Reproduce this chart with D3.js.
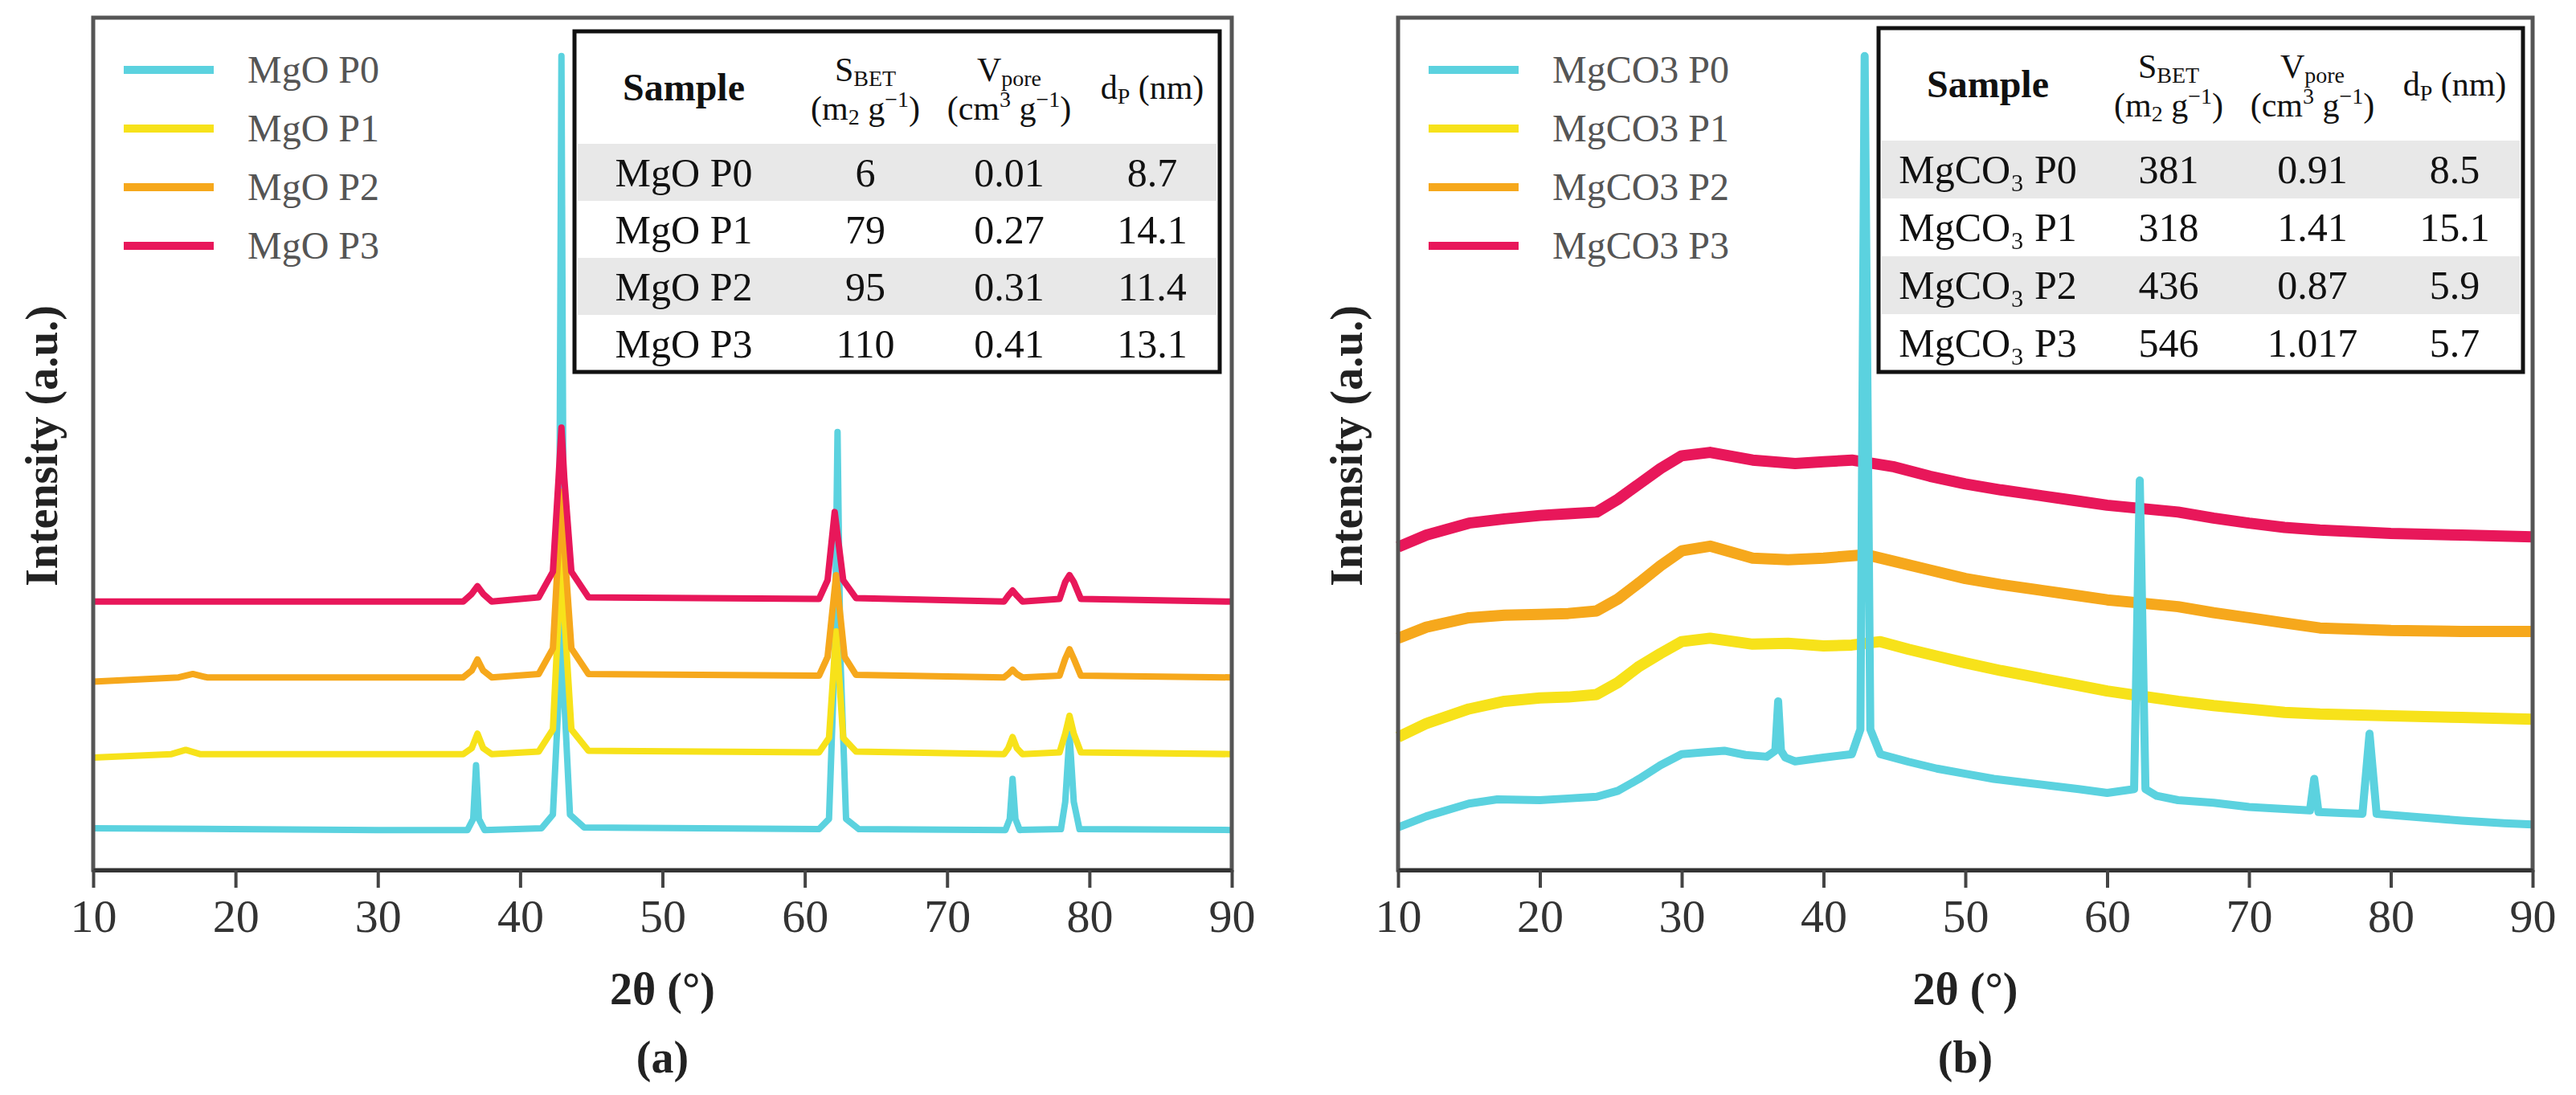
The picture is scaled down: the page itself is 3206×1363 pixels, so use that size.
<!DOCTYPE html>
<html><head><meta charset="utf-8">
<script src="https://cdn.jsdelivr.net/npm/d3@7"></script>
<style>body{margin:0;background:#fff}svg text{font-family:"Liberation Serif","DejaVu Serif",serif !important}</style>
</head><body>
<script>
const W = 3206, H = 1363;

const colors = ["#5bd2df", "#f7e21a", "#f6a81c", "#e8175a"];
const xTicks = [10, 20, 30, 40, 50, 60, 70, 80, 90];

// panel (a): MgO
const mgoNames = ["MgO P0", "MgO P1", "MgO P2", "MgO P3"];
const mgoP0 = [[10,4.9],[30,4.7],[36.3,4.7],[36.7,6],[36.9,12.3],[37.1,6],[37.5,4.7],[41.5,4.9],[42.3,6.5],[42.7,20],[42.9,95.5],[43.1,20],[43.5,6.5],[44.5,5],[61,4.8],[61.7,6],[62.1,25],[62.3,51.4],[62.5,25],[62.9,6],[63.8,4.8],[74.1,4.7],[74.4,6],[74.6,10.7],[74.8,6],[75.1,4.7],[78.0,4.8],[78.3,8],[78.6,16.0],[78.9,8],[79.3,4.8],[90,4.7]];
const mgoP1 = [[10,13.2],[15.5,13.6],[16.5,14.1],[17.5,13.6],[36,13.6],[36.6,14.3],[37,16.0],[37.4,14.3],[38,13.6],[41.3,13.9],[42.3,16.5],[42.7,30],[42.9,42.8],[43.1,30],[43.6,16.5],[44.8,14],[61,13.8],[61.7,15.5],[62.2,28],[62.7,15.5],[63.6,13.9],[74,13.6],[74.3,14.3],[74.6,15.6],[74.9,14.3],[75.3,13.6],[77.9,13.8],[78.3,16],[78.6,18.1],[78.9,16],[79.4,13.8],[90,13.6]];
const mgoP2 = [[10,22.1],[16,22.6],[17,23.0],[18,22.6],[36,22.6],[36.6,23.4],[37,24.7],[37.4,23.4],[38,22.6],[41.3,23],[42.3,26],[42.7,38],[42.9,44.4],[43.1,38],[43.6,26],[44.8,23],[61,22.8],[61.6,25],[62.2,34.6],[62.8,25],[63.6,22.9],[74,22.6],[74.3,23],[74.6,23.5],[74.9,23],[75.3,22.6],[77.9,22.8],[78.3,24.8],[78.6,25.9],[78.9,24.8],[79.4,22.8],[90,22.6]];
const mgoP3 = [[10,31.5],[36,31.5],[36.6,32.4],[37,33.3],[37.4,32.4],[38,31.5],[41.3,32],[42.3,35],[42.7,46],[42.9,51.9],[43.1,46],[43.6,35],[44.8,32],[61,31.8],[61.6,34],[62.1,42.0],[62.7,34],[63.6,31.9],[74,31.5],[74.3,32.2],[74.6,32.8],[74.9,32.2],[75.3,31.5],[77.9,31.8],[78.3,33.8],[78.6,34.6],[78.9,33.8],[79.4,31.8],[90,31.5]];

const mgoSbet = ["6", "79", "95", "110"];
const mgoVpore = ["0.01", "0.27", "0.31", "0.41"];
const mgoDp = ["8.7", "14.1", "11.4", "13.1"];

// panel (b): MgCO3
const carbNames = ["MgCO3 P0", "MgCO3 P1", "MgCO3 P2", "MgCO3 P3"];
const carbRows = ["MgCO₃ P0", "MgCO₃ P1", "MgCO₃ P2", "MgCO₃ P3"];
const carbP0 = [[10,5.0],[12,6.3],[15,7.8],[17,8.3],[20,8.2],[22,8.4],[24,8.6],[25.5,9.3],[27,10.7],[28.5,12.3],[30,13.6],[31.5,13.8],[33,14.0],[34.5,13.5],[36,13.3],[36.6,14],[36.8,19.8],[37.0,14],[37.3,13.2],[38,12.75],[40,13.2],[42,13.6],[42.6,16.5],[42.9,95.5],[43.3,16.5],[44,13.6],[46,12.7],[48,11.9],[50,11.3],[52,10.7],[54,10.3],[56,9.9],[58,9.5],[60,9.05],[61.9,9.5],[62.3,45.7],[62.7,9.5],[63.5,8.7],[65,8.2],[67.5,7.9],[70,7.4],[72,7.2],[74.3,7.0],[74.6,10.7],[74.9,6.8],[76.5,6.7],[78,6.6],[78.5,16.0],[79,6.6],[82,6.2],[85,5.8],[88,5.5],[90,5.35]];
const carbP1 = [[10,15.6],[12,17.2],[15,18.9],[17.5,19.8],[20,20.2],[22,20.3],[24,20.6],[25.5,22.0],[27,23.9],[28.5,25.4],[30,26.8],[32,27.2],[35,26.5],[37.5,26.6],[40,26.3],[42,26.4],[44,26.8],[46,25.9],[48,25.1],[50,24.3],[52.5,23.4],[55,22.6],[57.5,21.8],[60,21.0],[62.5,20.4],[65,19.8],[67.5,19.3],[70,18.9],[72.5,18.5],[75,18.3],[80,18.1],[85,17.9],[90,17.7]];
const carbP2 = [[10,27.2],[12,28.5],[15,29.6],[17.5,29.9],[20,30.0],[22,30.1],[24,30.4],[25.5,31.8],[27,33.7],[28.5,35.7],[30,37.45],[32,38.0],[35,36.6],[37.5,36.4],[40,36.6],[43,37.0],[45,36.2],[47.5,35.2],[50,34.2],[52.5,33.5],[55,32.9],[57.5,32.3],[60,31.7],[62.5,31.3],[65,30.9],[67.5,30.2],[70,29.6],[72.5,29.0],[75,28.4],[80,28.1],[85,28.0],[90,28.0]];
const carbP3 = [[10,37.9],[12,39.3],[15,40.7],[17.5,41.2],[20,41.6],[22,41.8],[24,42.0],[25.5,43.5],[27,45.3],[28.5,47.1],[30,48.6],[32,49.0],[35,48.1],[38,47.7],[40,47.9],[42,48.1],[45,47.3],[47.5,46.2],[50,45.3],[52.5,44.6],[55,44.0],[57.5,43.4],[60,42.8],[62.5,42.4],[65,42.0],[67.5,41.3],[70,40.7],[72.5,40.2],[75,39.9],[80,39.5],[85,39.3],[90,39.1]];

const carbSbet = ["381", "318", "436", "546"];
const carbVpore = ["0.91", "1.41", "0.87", "1.017"];
const carbDp = ["8.5", "15.1", "5.9", "5.7"];

const svg = d3.select("body").append("svg").attr("width", W).attr("height", H)
  .attr("font-family", "Liberation Serif");

function panel(cfg) {
  const g = svg.append("g");
  const x = d3.scaleLinear().domain([10, 90]).range([cfg.left, cfg.right]);
  const y = d3.scaleLinear().domain([0, 100]).range([1083, 22]);
  const line = d3.line().x(d => x(d[0])).y(d => y(d[1]));

  cfg.order.forEach(i => {
    g.append("path").datum(cfg.series[i])
      .attr("d", line).attr("fill", "none")
      .attr("stroke", colors[i]).attr("stroke-width", i === 0 ? cfg.sw0 : cfg.sw)
      .attr("stroke-linejoin", "round");
  });

  // frame
  g.append("rect").attr("x", cfg.left).attr("y", 22)
    .attr("width", cfg.right - cfg.left).attr("height", 1083 - 22)
    .attr("fill", "none").attr("stroke", "#555").attr("stroke-width", 5);

  const ax = g.append("g").attr("transform", "translate(0,1083)")
    .call(d3.axisBottom(x).tickValues(xTicks).tickSize(22).tickSizeOuter(0).tickPadding(14));
  ax.attr("font-family", "Liberation Serif");
  ax.select(".domain").attr("stroke", "#333").attr("stroke-width", 5);
  ax.selectAll(".tick line").attr("stroke", "#444").attr("stroke-width", 4);
  ax.selectAll("text").attr("font-size", 58).attr("fill", "#333");

  const cx = (cfg.left + cfg.right) / 2;
  g.append("text").attr("x", cx).attr("y", 1250).attr("text-anchor", "middle")
    .attr("font-size", 56).attr("font-weight", "bold").attr("fill", "#222").text("2θ (°)");
  g.append("text").attr("x", cx).attr("y", 1335).attr("text-anchor", "middle")
    .attr("font-size", 56).attr("font-weight", "bold").attr("fill", "#222").text(cfg.tag);

  g.append("text").attr("transform", `translate(${cfg.left - 45},555) rotate(-90)`)
    .attr("text-anchor", "middle").attr("font-size", 56).attr("font-weight", "bold")
    .attr("fill", "#222").text("Intensity (a.u.)");

  // legend
  cfg.names.forEach((n, i) => {
    const ly = 87 + i * 73;
    g.append("line").attr("x1", cfg.left + 38).attr("x2", cfg.left + 150)
      .attr("y1", ly).attr("y2", ly).attr("stroke", colors[i]).attr("stroke-width", 10);
    g.append("text").attr("x", cfg.left + 192).attr("y", ly + 16)
      .attr("font-size", 48).attr("fill", "#555").text(n);
  });

  // table
  const t = cfg.table;
  const tg = g.append("g");
  const rowH = (463 - t.head) / 4;
  tg.append("rect").attr("x", t.x0).attr("y", t.y0).attr("width", t.x1 - t.x0)
    .attr("height", 463 - t.y0).attr("fill", "#fff");
  for (let r = 0; r < 4; r++) {
    if (r % 2 === 0) tg.append("rect").attr("x", t.x0 + 4).attr("y", t.head + r * rowH)
      .attr("width", t.x1 - t.x0 - 8).attr("height", rowH).attr("fill", "#e8e8e8");
    const vals = [t.rows[r], t.sbet[r], t.vpore[r], t.dp[r]];
    vals.forEach((v, c) => {
      tg.append("text").attr("x", t.cols[c]).attr("y", t.head + r * rowH + rowH / 2 + 17)
        .attr("text-anchor", "middle").attr("font-size", 50).attr("fill", "#111").text(v);
    });
  }
  tg.append("rect").attr("x", t.x0).attr("y", t.y0).attr("width", t.x1 - t.x0)
    .attr("height", 463 - t.y0).attr("fill", "none").attr("stroke", "#111").attr("stroke-width", 5);

  const hy = (t.y0 + t.head) / 2;
  const fs = 42, sub = 28;
  tg.append("text").attr("x", t.cols[0]).attr("y", hy + 16).attr("text-anchor", "middle")
    .attr("font-size", 48).attr("font-weight", "bold").attr("fill", "#111").text("Sample");
  const s = tg.append("text").attr("x", t.cols[1]).attr("y", hy - 8).attr("text-anchor", "middle")
    .attr("font-size", fs).attr("fill", "#111");
  s.append("tspan").text("S");
  s.append("tspan").attr("font-size", sub).attr("dy", 6).text("BET");
  const s2 = tg.append("text").attr("x", t.cols[1]).attr("y", hy + 40).attr("text-anchor", "middle")
    .attr("font-size", fs).attr("fill", "#111");
  s2.append("tspan").text("(m");
  s2.append("tspan").attr("font-size", sub).attr("dy", 6).text("2");
  s2.append("tspan").attr("dy", -6).text(" g");
  s2.append("tspan").attr("font-size", sub).attr("dy", -16).text("−1");
  s2.append("tspan").attr("dy", 16).text(")");
  const v1 = tg.append("text").attr("x", t.cols[2]).attr("y", hy - 8).attr("text-anchor", "middle")
    .attr("font-size", fs).attr("fill", "#111");
  v1.append("tspan").text("V");
  v1.append("tspan").attr("font-size", sub).attr("dy", 6).text("pore");
  const v2 = tg.append("text").attr("x", t.cols[2]).attr("y", hy + 40).attr("text-anchor", "middle")
    .attr("font-size", fs).attr("fill", "#111");
  v2.append("tspan").text("(cm");
  v2.append("tspan").attr("font-size", sub).attr("dy", -16).text("3");
  v2.append("tspan").attr("dy", 16).text(" g");
  v2.append("tspan").attr("font-size", sub).attr("dy", -16).text("−1");
  v2.append("tspan").attr("dy", 16).text(")");
  const d = tg.append("text").attr("x", t.cols[3]).attr("y", hy + 14).attr("text-anchor", "middle")
    .attr("font-size", fs).attr("fill", "#111");
  d.append("tspan").text("d");
  d.append("tspan").attr("font-size", sub).attr("dy", 6).text("P");
  d.append("tspan").attr("dy", -6).text(" (nm)");
}

panel({
  left: 116, right: 1533, sw: 8, sw0: 8, tag: "(a)", names: mgoNames,
  series: [mgoP0, mgoP1, mgoP2, mgoP3], order: [0, 1, 2, 3],
  table: { x0: 715, x1: 1518, y0: 39, head: 179, cols: [851, 1077, 1256, 1434],
    rows: mgoNames, sbet: mgoSbet, vpore: mgoVpore, dp: mgoDp }
});
panel({
  left: 1740, right: 3152, sw: 14, sw0: 10, tag: "(b)", names: carbNames,
  series: [carbP0, carbP1, carbP2, carbP3], order: [3, 2, 1, 0],
  table: { x0: 2338, x1: 3140, y0: 35, head: 175, cols: [2474, 2699, 2878, 3055],
    rows: carbRows, sbet: carbSbet, vpore: carbVpore, dp: carbDp }
});
</script>
</body></html>
